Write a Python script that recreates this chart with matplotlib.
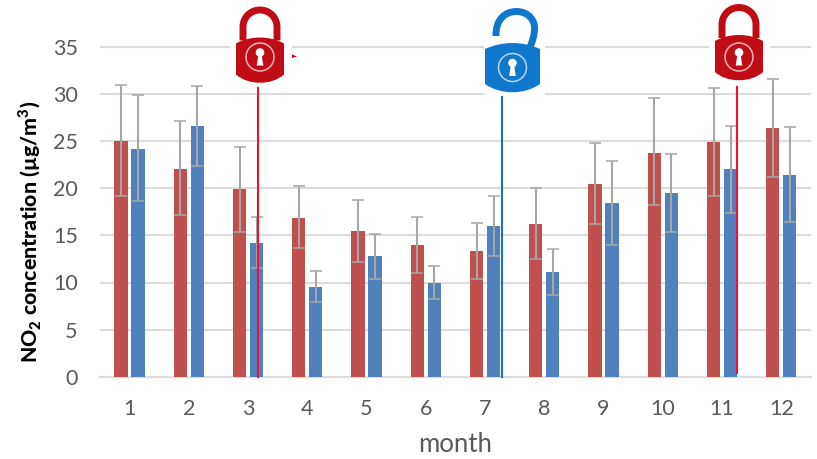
import matplotlib
matplotlib.use('Agg')
import matplotlib.pyplot as plt
import numpy as np
from matplotlib.path import Path
from matplotlib.patches import PathPatch, Circle, Rectangle

plt.rcParams['font.family'] = ['Lato', 'DejaVu Sans']
plt.rcParams['mathtext.fontset'] = 'custom'
plt.rcParams['mathtext.bf'] = 'Lato:black'
plt.rcParams['mathtext.rm'] = 'Lato'

months = np.arange(1, 13)
red_vals = [25, 22.1, 19.9, 16.9, 15.5, 14, 13.3, 16.2, 20.5, 23.8, 24.9, 26.4]
blue_vals = [24.2, 26.6, 14.2, 9.5, 12.8, 10, 16, 11.1, 18.4, 19.5, 22, 21.4]
red_high = [31, 27.1, 24.4, 20.2, 18.8, 17, 16.3, 20, 24.8, 29.6, 30.6, 31.6]
red_low = [19.2, 17.2, 15.4, 13.7, 12.2, 11, 10.4, 12.5, 16.2, 18.2, 19.2, 21.2]
blue_high = [29.9, 30.9, 17, 11.2, 15.2, 11.7, 19.2, 13.6, 22.9, 23.6, 26.6, 26.5]
blue_low = [18.6, 22.4, 11.5, 7.9, 10.4, 8.2, 12.8, 8.7, 14, 15.4, 17.4, 16.4]

W, H = 817, 459
fig = plt.figure(figsize=(W / 100, H / 100), dpi=100)
x0, x1 = 99.9, 810.9
y_top, y_bot = 20, 376.7
ax = fig.add_axes([x0 / W, 1 - y_bot / H, (x1 - x0) / W, (y_bot - y_top) / H])

red = np.array(red_vals)
blue = np.array(blue_vals)
width = 0.226
off = 0.1435
err_kw = dict(ecolor='#a6a6a6', elinewidth=1.5, capsize=4, capthick=1.1)
ax.bar(months - off, red, width, color='#c0504d',
       yerr=[red - np.array(red_low), np.array(red_high) - red], error_kw=err_kw, zorder=3)
ax.bar(months + off, blue, width, color='#4f81bd',
       yerr=[blue - np.array(blue_low), np.array(blue_high) - blue], error_kw=err_kw, zorder=3)

ax.set_xlim(0.5, 12.5)
ax.set_ylim(0, (y_bot - y_top) / 9.42)
ax.set_yticks(range(0, 40, 5))
ax.set_xticks(months)
ax.grid(axis='y', color='#dcdcdc', lw=1.5, zorder=0)
ax.set_axisbelow(True)
for s in ['top', 'right', 'left']:
    ax.spines[s].set_visible(False)
ax.spines['bottom'].set_color('#dcdcdc')
ax.spines['bottom'].set_linewidth(1.5)
ax.tick_params(length=0, labelsize=15.5, labelcolor='#595959')
ax.tick_params(axis='x', pad=16)
ax.tick_params(axis='y', pad=16)

fig.text(30 / W, 1 - 232 / H, r'NO$_{\mathbf{2}}$ concentration (µg/m$^{\mathbf{3}}$)',
         rotation=90, ha='center', va='center', fontsize=15.3, fontweight='black', color='black')
fig.text(455 / W, 1 - 444 / H, 'month', ha='center', va='center', fontsize=18.5, color='#595959')

# overlay in pixel coordinates for the lock pictures
ov = fig.add_axes([0, 0, 1, 1], facecolor='none')
ov.set_xlim(0, W)
ov.set_ylim(H, 0)
ov.axis('off')


def lock(cx, top, color, is_open, mask, ring_y):
    w = 55 if is_open else 48
    h = 49 if is_open else 45
    left, right = cx - w / 2, cx + w / 2
    bot = top + h
    ov.add_patch(Rectangle((mask[0], mask[1]), mask[2] - mask[0], mask[3] - mask[1],
                           fc='white', ec='none', zorder=4))
    # shackle
    if is_open:
        verts = [(cx - 16.5, top - 7), (cx - 17, top - 23), (cx - 8, top - 31.5), (cx + 4, top - 31.5),
                 (cx + 17, top - 31.5), (cx + 22.5, top - 21), (cx + 22, top - 15),
                 (cx + 22, top - 8), (cx + 20, top - 1), (cx + 17, top + 5)]
        codes = [Path.MOVETO] + [Path.CURVE4] * 9
    else:
        s = top - 27.5
        verts = [(cx - 17, top + 3), (cx - 17, s + 17), (cx - 17, s + 7.5), (cx - 9.5, s), (cx, s),
                 (cx + 9.5, s), (cx + 17, s + 7.5), (cx + 17, s + 17), (cx + 17, top + 3)]
        codes = [Path.MOVETO, Path.LINETO] + [Path.CURVE4] * 6 + [Path.LINETO]
    ov.add_patch(PathPatch(Path(verts, codes), fc='none', ec=color, lw=5, zorder=5, capstyle='butt'))
    # body with bulged top and bottom edges
    verts = [(left, top + 6), (cx - 10, top - 2), (cx + 10, top - 2), (right, top + 6),
             (right, bot - 8), (cx + 12, bot + 3), (cx - 12, bot + 3), (left, bot - 8), (left, top + 6)]
    codes = [Path.MOVETO, Path.CURVE4, Path.CURVE4, Path.CURVE4, Path.LINETO,
             Path.CURVE4, Path.CURVE4, Path.CURVE4, Path.CLOSEPOLY]
    ov.add_patch(PathPatch(Path(verts, codes), fc=color, ec='none', zorder=6))
    ov.add_patch(Circle((cx, ring_y), 14, fc='none', ec='#ffffff', lw=1.1, alpha=0.7, zorder=7))
    ov.add_patch(Circle((cx, ring_y - 4.5), 4.3, fc='white', ec='none', zorder=8))
    verts = [(cx - 1.5, ring_y - 3), (cx + 1.5, ring_y - 3), (cx + 3.3, ring_y + 8.5),
             (cx - 3.3, ring_y + 8.5), (cx - 1.5, ring_y - 3)]
    ov.add_patch(PathPatch(Path(verts, [Path.MOVETO] + [Path.LINETO] * 3 + [Path.CLOSEPOLY]),
                           fc='white', ec='none', zorder=8))


lock(260, 37.5, '#c00d15', False, (230, 38, 292, 56), 57)
lock(512.5, 43, '#0f77cc', True, (484, 38, 545, 97), 67.5)
lock(739, 35, '#c00d15', False, (709, 38, 770, 56), 57)

ov.plot([258, 258], [88, 377], color='#ee1133', lw=1.5, zorder=5)
ov.plot([502, 502], [97, 377], color='#1474c4', lw=1.5, zorder=5)
ov.plot([737, 737], [87, 373], color='#ee1133', lw=1.5, zorder=5)
ov.add_patch(PathPatch(Path([(292, 54.5), (297, 56.5), (292, 58), (292, 54.5)],
                            [Path.MOVETO, Path.LINETO, Path.LINETO, Path.CLOSEPOLY]),
                       fc='#c00d15', ec='none', zorder=5))

fig.savefig('out.png', dpi=100)
